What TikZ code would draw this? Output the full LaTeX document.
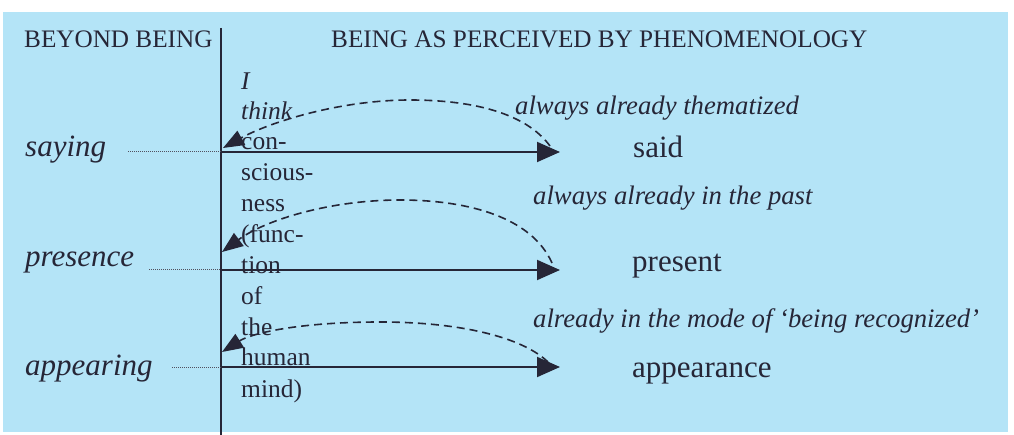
\documentclass[tikz,border=0pt]{standalone}
\usepackage{fontspec}
\setmainfont{Liberation Serif}
\usetikzlibrary{arrows.meta}
\definecolor{bgblue}{RGB}{180,228,247}
\definecolor{ink}{RGB}{38,38,55}
\begin{document}
\begin{tikzpicture}[x=1pt,y=-1pt,
  txt/.style={inner sep=0pt, anchor=base west, text=ink},
  head/.style={txt, font=\fontsize{25.2}{30}\selectfont},
  lab/.style={txt, font=\fontsize{31}{36}\selectfont\itshape},
  res/.style={txt, font=\fontsize{31}{36}\selectfont},
  note/.style={txt, font=\fontsize{26.7}{32}\selectfont\itshape},
  col/.style={txt, font=\fontsize{25.5}{30}\selectfont},
  mainline/.style={draw=ink, line width=1.9pt},
  solidarrow/.style={draw=ink, line width=1.9pt, -{Triangle[length=23pt,width=20pt]}},
  dasharrow/.style={draw=ink, line width=1.6pt, dash pattern=on 8pt off 5pt, -{Triangle[length=21pt,width=16pt]}},
  guide/.style={draw=ink!80, line width=1pt, densely dotted}]
\useasboundingbox (0,0) rectangle (1014,435);
\fill[bgblue] (3,12) rectangle (1008,432);

% headers
\node[head] (hbeyond) at (24,48) {BEYOND BEING};
\node[head] (hphen) at (331,48) {BEING AS PERCEIVED BY PHENOMENOLOGY};

% vertical divider
\coordinate (vtop) at (221,28);
\coordinate (vbot) at (221,435);
\draw[mainline] (vtop) -- (vbot);

% left labels
\node[lab] (saying) at (25,157) {saying};
\node[lab] (presence) at (25,267) {presence};
\node[lab] (appearing) at (25,375) {appearing};

% right labels
\node[res] (said) at (633,158) {said};
\node[res] (present) at (632,272) {present};
\node[res] (appearance) at (632,377) {appearance};

% notes
\node[note] (n1) at (515,115) {always already thematized};
\node[note] (n2) at (533,205) {always already in the past};
\node[note] (n3) at (533,328) {already in the mode of `being recognized'};

% column text
\node[col] (c1) at (241,90) {\itshape I};
\node[col] (c2) at (241,120) {\itshape think};
\node[col] (c3) at (241,150) {con-};
\node[col] (c4) at (241,181) {scious-};
\node[col] (c5) at (241,212) {ness};
\node[col] (c6) at (241,243) {(func-};
\node[col] (c7) at (241,274) {tion};
\node[col] (c8) at (241,305) {of};
\node[col] (c9) at (241,335) {the};
\node[col] (c10) at (241,366) {human};
\node[col] (c11) at (241,397) {mind)};

% coordinates
\coordinate (sg) at (128,152); \coordinate (s0) at (221,152); \coordinate (s1) at (560,152);
\coordinate (pg) at (149,270); \coordinate (p0) at (221,270); \coordinate (p1) at (560,270);
\coordinate (ag) at (172,367); \coordinate (a0) at (221,367); \coordinate (a1) at (560,367);

% dotted guides
\draw[guide] (sg) -- (s0);
\draw[guide] (pg) -- (p0);
\draw[guide] (ag) -- (a0);

% solid arrows
\draw[solidarrow] (s0) -- (s1);
\draw[solidarrow] (p0) -- (p1);
\draw[solidarrow] (a0) -- (a1);

% dashed return arrows
\coordinate (d1s) at (550,146); \coordinate (d1m) at (410,100); \coordinate (d1e) at (223,148);
\coordinate (d2s) at (552,263); \coordinate (d2m) at (400,200); \coordinate (d2e) at (222,252);
\coordinate (d3s) at (548,362); \coordinate (d3m) at (380,322); \coordinate (d3e) at (222,352);
\draw[dasharrow] (d1s) .. controls (525,112) and (470,100) .. (d1m) .. controls (340,100) and (270,122) .. (d1e);
\draw[dasharrow] (d2s) .. controls (532,218) and (470,200) .. (d2m) .. controls (330,200) and (265,220) .. (d2e);
\draw[dasharrow] (d3s) .. controls (522,337) and (460,322) .. (d3m) .. controls (300,322) and (252,333) .. (d3e);
\end{tikzpicture}
\end{document}
